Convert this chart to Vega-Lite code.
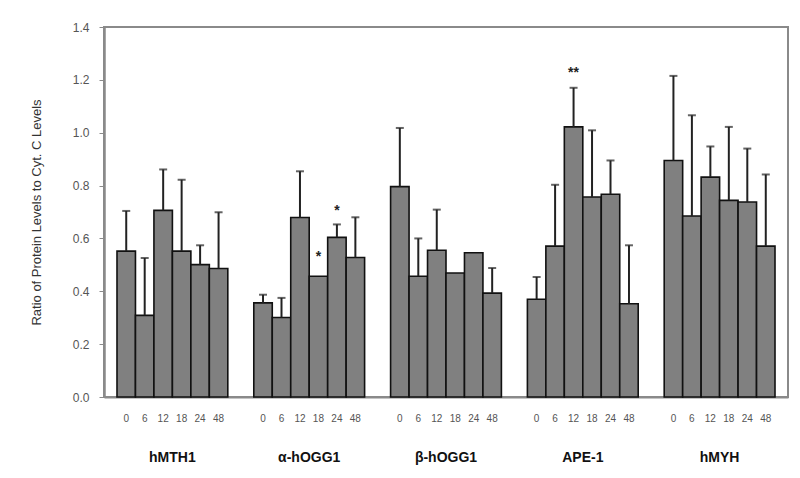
{
  "$schema": "https://vega.github.io/schema/vega-lite/v6.json",
  "width": 684,
  "height": 370,
  "autosize": "none",
  "padding": {"left": 104, "top": 27, "right": 12, "bottom": 81},
  "background": "white",
  "config": {
    "font": "Liberation Sans",
    "view": {"stroke": "#8a8a8a", "strokeWidth": 2},
    "axis": {"grid": false}
  },
  "data": {
    "values": [
      {"group": "hMTH1", "time": "0", "value": 0.552, "upper": 0.704},
      {"group": "hMTH1", "time": "6", "value": 0.309, "upper": 0.526},
      {"group": "hMTH1", "time": "12", "value": 0.706, "upper": 0.861},
      {"group": "hMTH1", "time": "18", "value": 0.552, "upper": 0.822},
      {"group": "hMTH1", "time": "24", "value": 0.501, "upper": 0.574},
      {"group": "hMTH1", "time": "48", "value": 0.486, "upper": 0.699},
      {"group": "α-hOGG1", "time": "0", "value": 0.356, "upper": 0.387},
      {"group": "α-hOGG1", "time": "6", "value": 0.301, "upper": 0.375},
      {"group": "α-hOGG1", "time": "12", "value": 0.679, "upper": 0.854},
      {"group": "α-hOGG1", "time": "18", "value": 0.457, "upper": null},
      {"group": "α-hOGG1", "time": "24", "value": 0.604, "upper": 0.653},
      {"group": "α-hOGG1", "time": "48", "value": 0.528, "upper": 0.68},
      {"group": "β-hOGG1", "time": "0", "value": 0.796, "upper": 1.018},
      {"group": "β-hOGG1", "time": "6", "value": 0.457, "upper": 0.6},
      {"group": "β-hOGG1", "time": "12", "value": 0.555, "upper": 0.709},
      {"group": "β-hOGG1", "time": "18", "value": 0.469, "upper": null},
      {"group": "β-hOGG1", "time": "24", "value": 0.546, "upper": null},
      {"group": "β-hOGG1", "time": "48", "value": 0.393, "upper": 0.488},
      {"group": "APE-1", "time": "0", "value": 0.37, "upper": 0.454},
      {"group": "APE-1", "time": "6", "value": 0.571, "upper": 0.803},
      {"group": "APE-1", "time": "12", "value": 1.022, "upper": 1.17},
      {"group": "APE-1", "time": "18", "value": 0.757, "upper": 1.009},
      {"group": "APE-1", "time": "24", "value": 0.767, "upper": 0.895},
      {"group": "APE-1", "time": "48", "value": 0.353, "upper": 0.574},
      {"group": "hMYH", "time": "0", "value": 0.895, "upper": 1.215},
      {"group": "hMYH", "time": "6", "value": 0.685, "upper": 1.066},
      {"group": "hMYH", "time": "12", "value": 0.832, "upper": 0.948},
      {"group": "hMYH", "time": "18", "value": 0.744, "upper": 1.022},
      {"group": "hMYH", "time": "24", "value": 0.738, "upper": 0.94},
      {"group": "hMYH", "time": "48", "value": 0.571, "upper": 0.842}
    ]
  },
  "encoding": {
    "x": {
      "field": "group",
      "type": "nominal",
      "sort": ["hMTH1", "α-hOGG1", "β-hOGG1", "APE-1", "hMYH"],
      "scale": {"paddingInner": 0.19, "paddingOuter": 0.095},
      "axis": {
        "title": null,
        "ticks": false,
        "tickSize": 0,
        "labelPadding": 53,
        "labelFontSize": 14,
        "labelFontWeight": "bold",
        "labelColor": "#111",
        "labelAngle": 0,
        "domainColor": "#8a8a8a",
        "domainWidth": 2
      }
    },
    "xOffset": {
      "field": "time",
      "type": "ordinal",
      "sort": ["0", "6", "12", "18", "24", "48"],
      "scale": {"paddingInner": 0, "paddingOuter": 0}
    }
  },
  "layer": [
    {
      "mark": {"type": "bar", "fill": "#808080", "stroke": "#111", "strokeWidth": 1.6},
      "encoding": {
        "y": {
          "field": "value",
          "type": "quantitative",
          "scale": {"domain": [0, 1.4], "nice": false},
          "axis": {
            "values": [0, 0.2, 0.4, 0.6, 0.8, 1.0, 1.2, 1.4],
            "format": ".1f",
            "labelColor": "#555",
            "labelFontSize": 12,
            "tickColor": "#8a8a8a",
            "tickSize": 5,
            "labelPadding": 10,
            "domainColor": "#8a8a8a",
            "domainWidth": 2.5,
            "title": "Ratio of Protein Levels to Cyt. C Levels",
            "titleFontSize": 13,
            "titleFontWeight": "normal",
            "titleColor": "#333",
            "titlePadding": 29
          }
        }
      }
    },
    {
      "transform": [{"filter": "datum.upper != null"}],
      "mark": {"type": "rule", "color": "#222", "strokeWidth": 2},
      "encoding": {
        "y": {"field": "value", "type": "quantitative"},
        "y2": {"field": "upper"}
      }
    },
    {
      "transform": [{"filter": "datum.upper != null"}],
      "mark": {"type": "tick", "color": "#222", "size": 8, "thickness": 2, "orient": "horizontal"},
      "encoding": {
        "y": {"field": "upper", "type": "quantitative"}
      }
    },
    {
      "mark": {"type": "text", "fontSize": 10, "color": "#555", "baseline": "middle"},
      "encoding": {
        "y": {"datum": -0.083},
        "text": {"field": "time"}
      }
    },
    {
      "data": {
        "values": [
          {"group": "α-hOGG1", "time": "18", "pos": 0.513, "label": "*"},
          {"group": "α-hOGG1", "time": "24", "pos": 0.687, "label": "*"},
          {"group": "APE-1", "time": "12", "pos": 1.209, "label": "**"}
        ]
      },
      "mark": {"type": "text", "fontSize": 14, "fontWeight": "bold", "color": "#222", "baseline": "alphabetic"},
      "encoding": {
        "y": {"field": "pos", "type": "quantitative"},
        "text": {"field": "label"}
      }
    }
  ]
}
